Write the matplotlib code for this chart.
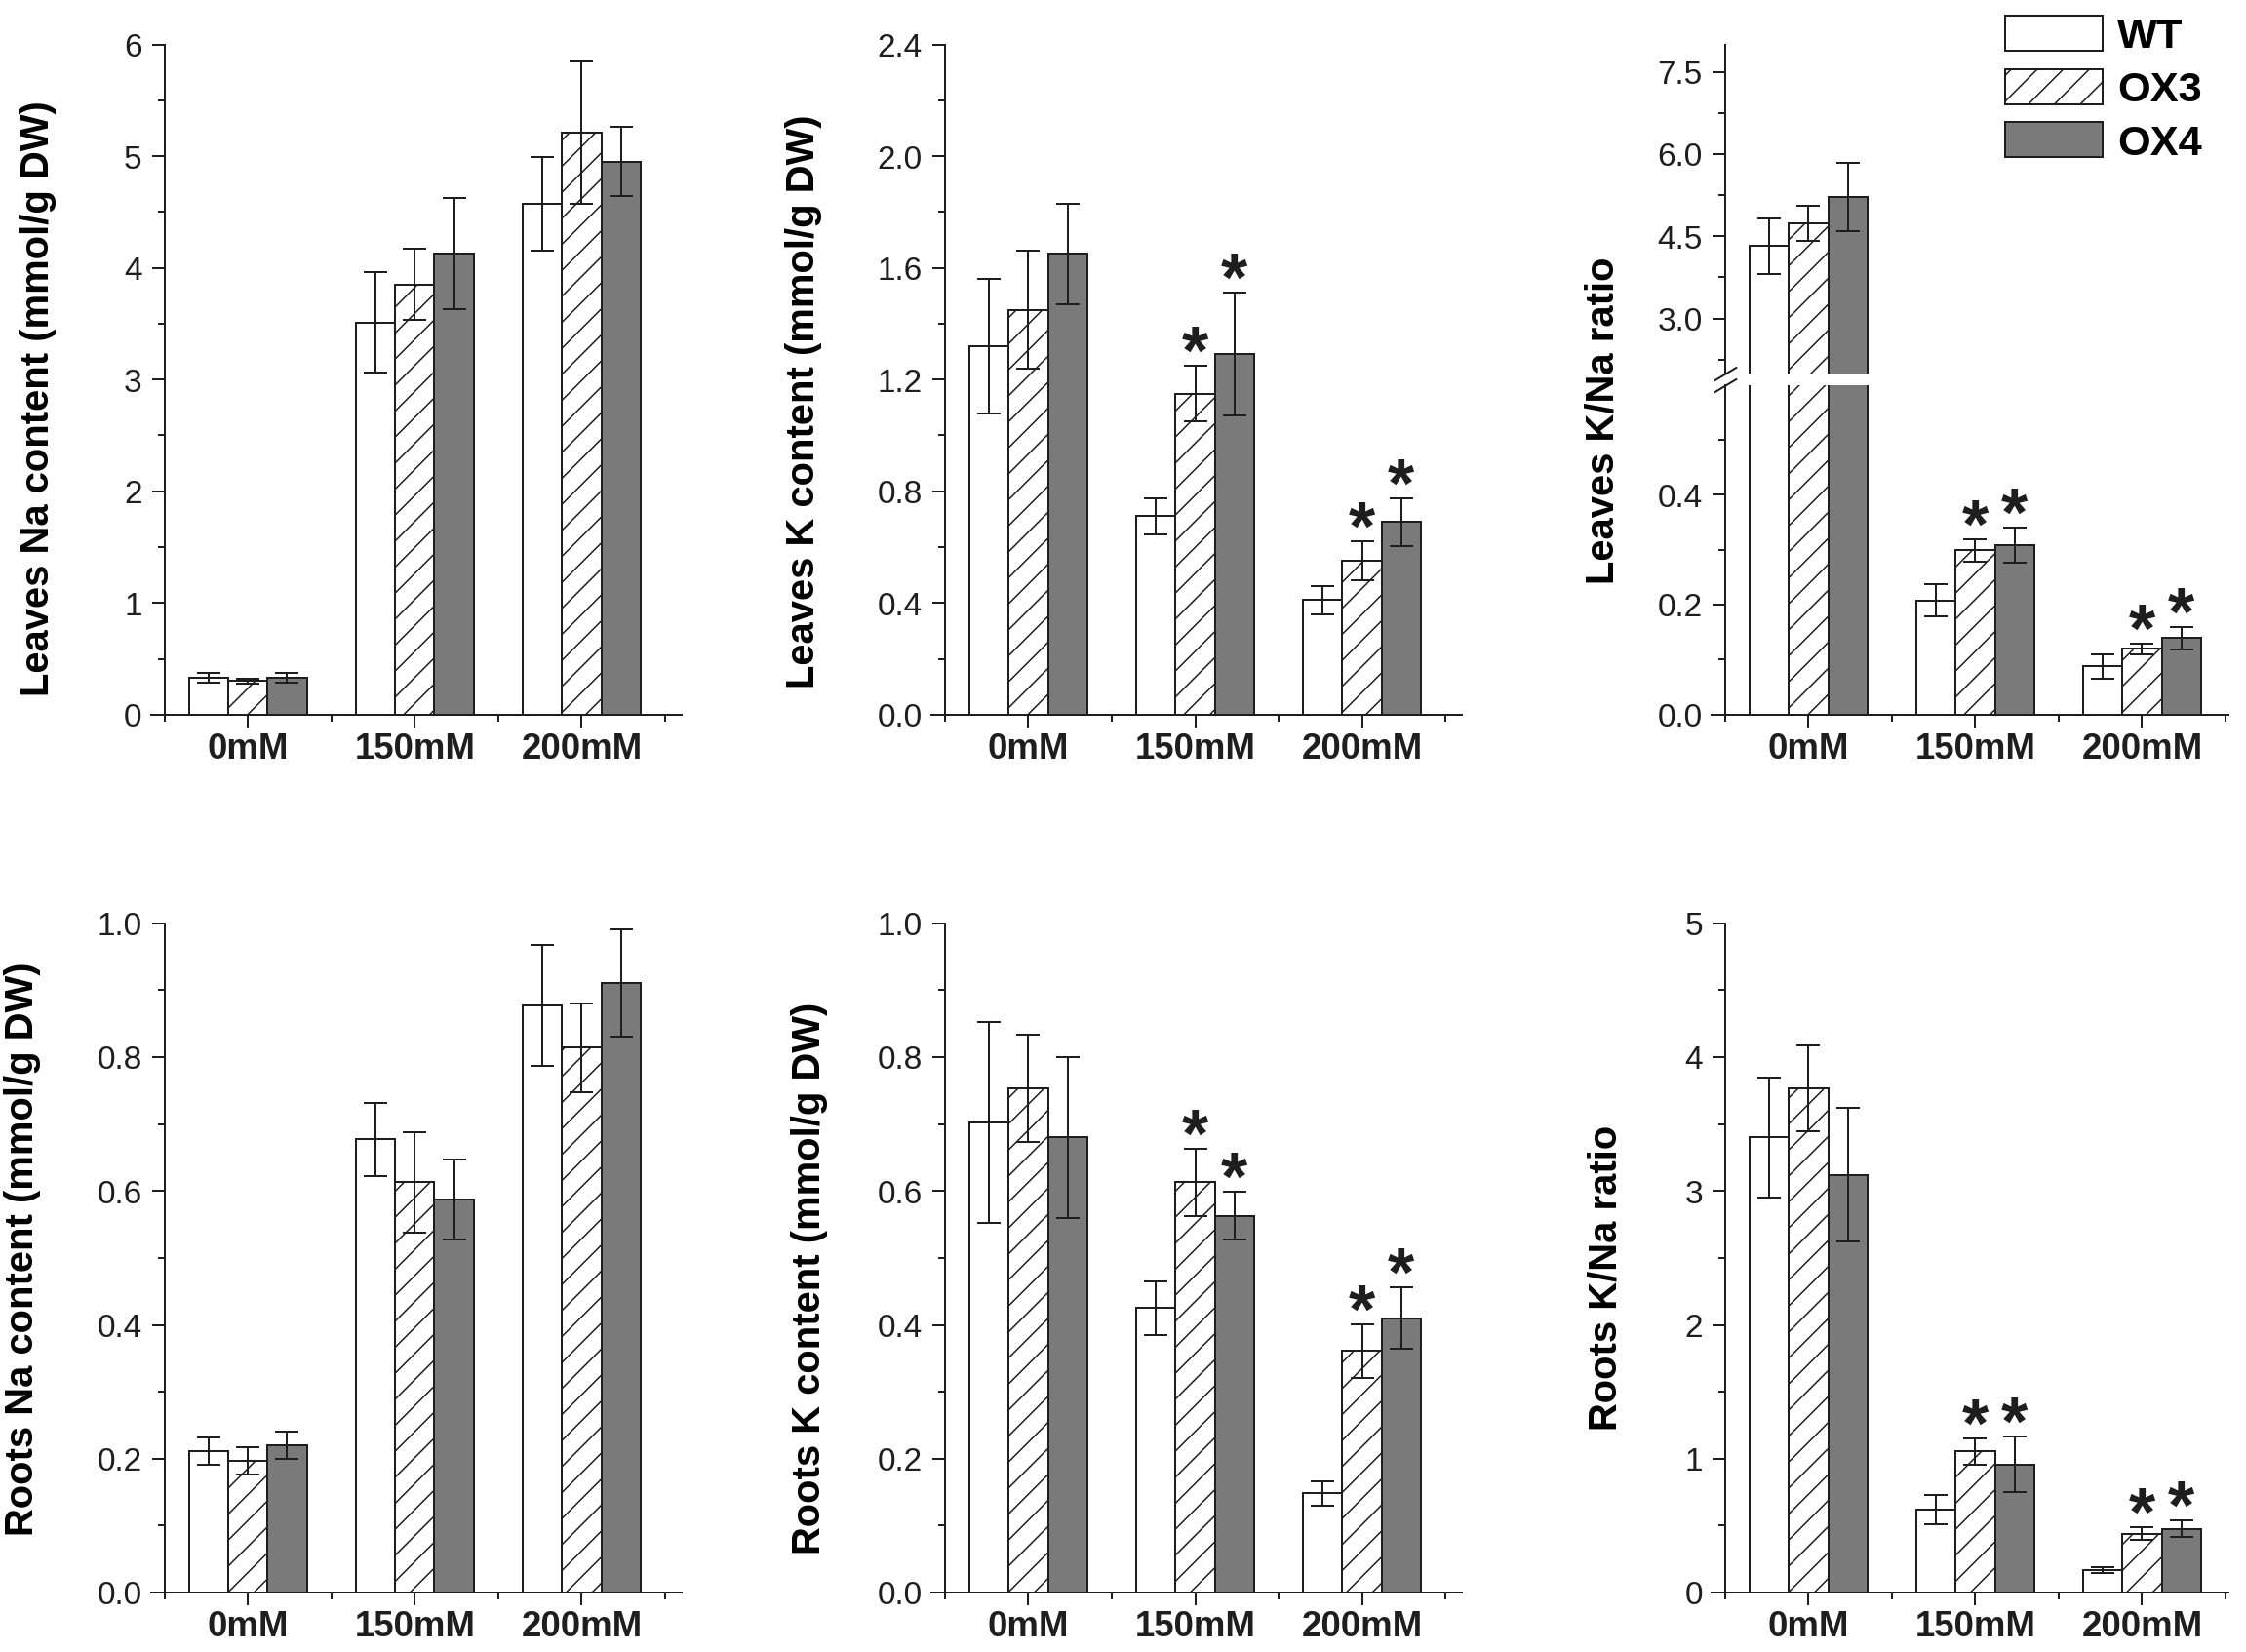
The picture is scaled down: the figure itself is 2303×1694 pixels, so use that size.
import matplotlib.pyplot as plt
import matplotlib.ticker as ticker
import numpy as np

plt.rcParams['font.family'] = ['Liberation Sans', 'DejaVu Sans']
plt.rcParams['hatch.linewidth'] = 0.45

groups = ['0mM', '150mM', '200mM']
lines = ['WT', 'OX3', 'OX4']

# rows: WT, OX3, OX4 / columns: 0, 150, 200 mM NaCl
leaf_na = [[0.33, 3.51, 4.57], [0.30, 3.85, 5.21], [0.33, 4.13, 4.95]]
leaf_na_err = [[0.04, 0.45, 0.42], [0.02, 0.32, 0.64], [0.04, 0.50, 0.31]]

leaf_k = [[1.32, 0.71, 0.41], [1.45, 1.15, 0.55], [1.65, 1.29, 0.69]]
leaf_k_err = [[0.24, 0.065, 0.05], [0.21, 0.10, 0.07], [0.18, 0.22, 0.085]]

leaf_ratio = [[4.32, 0.208, 0.088], [4.74, 0.299, 0.120], [5.22, 0.308, 0.139]]
leaf_ratio_err = [[0.51, 0.03, 0.022], [0.32, 0.02, 0.01], [0.62, 0.032, 0.02]]

root_na = [[0.211, 0.677, 0.877], [0.197, 0.613, 0.814], [0.220, 0.587, 0.911]]
root_na_err = [[0.02, 0.055, 0.09], [0.02, 0.075, 0.066], [0.021, 0.06, 0.08]]

root_k = [[0.703, 0.425, 0.148], [0.753, 0.613, 0.361], [0.680, 0.563, 0.410]]
root_k_err = [[0.15, 0.04, 0.018], [0.08, 0.05, 0.04], [0.12, 0.036, 0.046]]

root_ratio = [[3.40, 0.62, 0.168], [3.77, 1.054, 0.44], [3.12, 0.957, 0.477]]
root_ratio_err = [[0.45, 0.11, 0.02], [0.32, 0.10, 0.05], [0.50, 0.21, 0.06]]

# significance asterisks
signif = [[False, False, False], [False, True, True], [False, True, True]]
no_signif = [[False, False, False]] * 3

W, H, DPI = 2303, 1694, 240
ink = '#1e1e1e'
fills = ['white', 'white', '#7a7a7a']
hatches = ['', '///', '']
bar_w = 0.235
x = np.arange(len(groups))


def draw(ax, means, errs, stars, ymax=None):
    bars = []
    for i, name in enumerate(lines):
        xs = x + (i - 1) * bar_w
        b = ax.bar(xs, means[i], bar_w, color=fills[i], hatch=hatches[i],
                   edgecolor=ink, linewidth=0.6, label=name, zorder=2)
        bars.append(b)
        ax.errorbar(xs, means[i], yerr=errs[i], fmt='none', ecolor=ink,
                    elinewidth=0.6, capsize=3.6, capthick=0.6, zorder=3)
        for j in range(len(groups)):
            top = means[i][j] + errs[i][j]
            if stars[i][j] and (ymax is None or top < ymax):
                ax.annotate('*', (xs[j], top), xytext=(0, -2.5),
                            textcoords='offset points', ha='center',
                            va='baseline', fontsize=21, fontweight='bold',
                            color=ink, zorder=4)
    return bars


def style(ax, ylim, major, minor, fmt, xright=2.6, xaxis=True):
    ax.set_xlim(-0.58, xright)
    ax.set_ylim(*ylim)
    ax.spines['top'].set_visible(False)
    ax.spines['right'].set_visible(False)
    ax.spines['left'].set_position(('data', -0.5))
    for s in ax.spines.values():
        s.set_linewidth(0.6)
        s.set_color(ink)
    if isinstance(major, list):
        ax.yaxis.set_major_locator(ticker.FixedLocator(major))
        ax.yaxis.set_minor_locator(ticker.FixedLocator(minor))
    else:
        ax.yaxis.set_major_locator(ticker.MultipleLocator(major))
        ax.yaxis.set_minor_locator(ticker.MultipleLocator(minor))
    ax.yaxis.set_major_formatter(ticker.FormatStrFormatter(fmt))
    ax.tick_params(axis='y', which='both', direction='out', color=ink,
                   width=0.6, labelsize=10, labelcolor=ink, pad=3.0)
    ax.tick_params(axis='y', which='major', length=3.9)
    ax.tick_params(axis='y', which='minor', length=2.1)
    if xaxis:
        ax.set_xticks(x)
        ax.set_xticklabels(groups, fontweight='bold')
        ax.set_xticks([-0.5, 0.5, 1.5, 2.5], minor=True)
        ax.tick_params(axis='x', which='both', direction='out', color=ink,
                       width=0.6, labelsize=11, labelcolor=ink, pad=1.5)
        ax.tick_params(axis='x', which='major', length=3.9)
        ax.tick_params(axis='x', which='minor', length=2.1)
    else:
        ax.spines['bottom'].set_visible(False)
        ax.tick_params(axis='x', which='both', bottom=False, labelbottom=False)


fig = plt.figure(figsize=((W + 0.4) / DPI, (H + 0.4) / DPI), dpi=DPI)

col_left = [155 / W, 955 / W, 1755 / W]
col_w = 544 / W
top_b, top_h = 961 / H, 687 / H
bot_b, bot_h = 61 / H, 686 / H

# top row
ax1 = fig.add_axes([col_left[0], top_b, col_w, top_h])
draw(ax1, leaf_na, leaf_na_err, no_signif)
style(ax1, (0, 6), 1, 0.5, '%d')

ax2 = fig.add_axes([col_left[1], top_b, col_w, top_h])
draw(ax2, leaf_k, leaf_k_err, signif)
style(ax2, (0, 2.4), 0.4, 0.2, '%.1f')

# broken axis panel
ax3u = fig.add_axes([col_left[2], 1311 / H, 530 / W, 337 / H])
ax3l = fig.add_axes([col_left[2], top_b, 530 / W, 338 / H])
draw(ax3u, leaf_ratio, leaf_ratio_err, signif, ymax=8)
bars = draw(ax3l, leaf_ratio, leaf_ratio_err, signif, ymax=0.6)
style(ax3u, (2, 8), [3.0, 4.5, 6.0, 7.5], [2.25, 3.75, 5.25, 6.75], '%.1f',
      xright=2.52, xaxis=False)
style(ax3l, (0, 0.6), [0.0, 0.2, 0.4], [0.1, 0.3, 0.5], '%.1f', xright=2.52)
brk = dict(marker=[(-1, -0.6), (1, 0.6)], markersize=7, linestyle='none',
           color=ink, mec=ink, mew=0.6, clip_on=False)
ax3u.plot([-0.5], [0], transform=ax3u.get_xaxis_transform(), **brk)
ax3l.plot([-0.5], [1], transform=ax3l.get_xaxis_transform(), **brk)

# bottom row
ax4 = fig.add_axes([col_left[0], bot_b, col_w, bot_h])
draw(ax4, root_na, root_na_err, no_signif)
style(ax4, (0, 1.0), 0.2, 0.1, '%.1f')

ax5 = fig.add_axes([col_left[1], bot_b, col_w, bot_h])
draw(ax5, root_k, root_k_err, signif)
style(ax5, (0, 1.0), 0.2, 0.1, '%.1f')

ax6 = fig.add_axes([col_left[2], bot_b, 530 / W, bot_h])
draw(ax6, root_ratio, root_ratio_err, signif)
style(ax6, (0, 5), 1, 0.5, '%d', xright=2.52)

# y labels
ylabels = [
    ('Leaves Na content (mmol/g DW)', 39, 409),
    ('Leaves K content (mmol/g DW)', 824, 412),
    ('Leaves K/Na ratio', 1643, 431),
    ('Roots Na content (mmol/g DW)', 23, 1280),
    ('Roots K content (mmol/g DW)', 830, 1311),
    ('Roots K/Na ratio', 1646, 1310),
]
for text, px, py in ylabels:
    fig.text(px / W, 1 - py / H, text, rotation=90, ha='center', va='center',
             fontsize=12, fontweight='bold', color='black')

fig.legend(bars, lines, loc='upper left', bbox_to_anchor=(2056 / W, 1 - 16 / H),
           frameon=False, prop={'weight': 'bold', 'size': 13},
           handlelength=2.3, handleheight=0.9, handletextpad=0.35,
           labelspacing=0.3, borderpad=0, borderaxespad=0)

fig.savefig('out.png', dpi=DPI, facecolor='white')
